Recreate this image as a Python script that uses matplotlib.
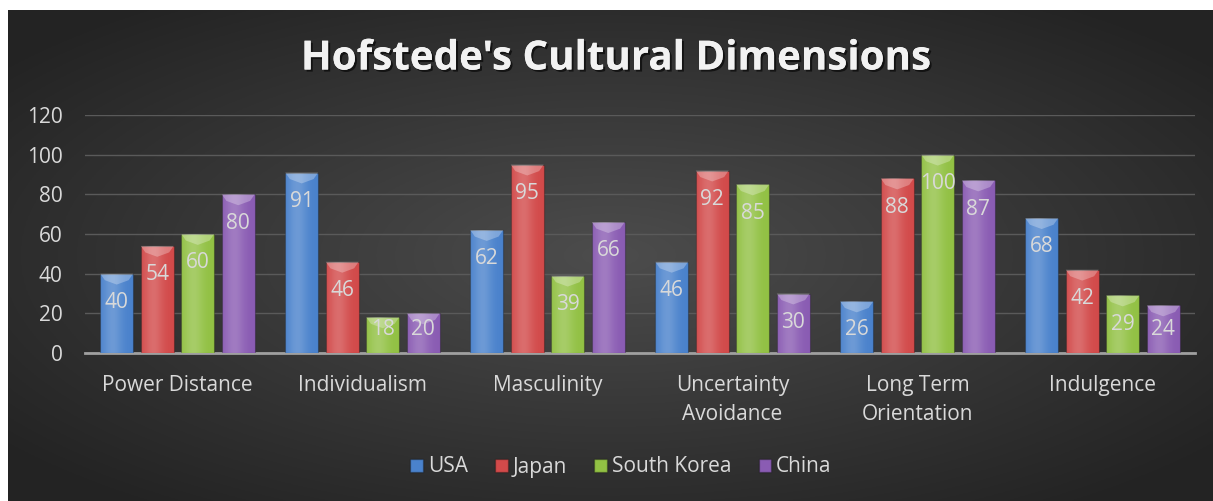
import numpy as np
import matplotlib
matplotlib.use("Agg")
import matplotlib.pyplot as plt
from matplotlib.patches import Rectangle, Polygon
import matplotlib.patheffects as pe

# data
categories = ["Power Distance", "Individualism", "Masculinity",
              "Uncertainty\nAvoidance", "Long Term\nOrientation", "Indulgence"]
usa = [40, 91, 62, 46, 26, 68]
japan = [54, 46, 95, 92, 88, 42]
south_korea = [60, 18, 39, 85, 100, 29]
china = [80, 20, 66, 30, 87, 24]

series = [("USA", usa, "#4a82cc"), ("Japan", japan, "#d24a4a"),
          ("South Korea", south_korea, "#92c144"), ("China", china, "#8a5cb3")]

plt.rcParams["font.family"] = ["Open Sans", "DejaVu Sans"]
txt = "#d9d9d9"
fs = 15

fig = plt.figure(figsize=(12.13, 5.01), dpi=100)
fig.patch.set_facecolor("white")

# radial background
bg = fig.add_axes([8 / 1213, 0, 1 - 8 / 1213, 1 - 10 / 501])
bg.set_axis_off()
yy, xx = np.mgrid[-1:1:300j, -1:1:600j]
r = np.sqrt((xx * 0.9) ** 2 + (yy * 0.9) ** 2)
shade = np.clip(0.30 - 0.14 * r, 0.14, 0.30)
bg.imshow(np.dstack([shade] * 3), aspect="auto", extent=[0, 1, 0, 1])
bg.set_xlim(0, 1)
bg.set_ylim(0, 1)

ax = fig.add_axes([85 / 1213, 1 - 353 / 501, 1110 / 1213, (353 - 115) / 501])
ax.set_facecolor("none")
ax.set_xlim(-0.5, 5.5)
ax.set_ylim(0, 120)
ax.set_yticks(range(0, 121, 20))
ax.grid(axis="y", color="#5a5a5a", linewidth=1)
ax.set_axisbelow(True)
for s in ["top", "right", "left"]:
    ax.spines[s].set_visible(False)
ax.spines["bottom"].set_color("#a0a0a0")
ax.spines["bottom"].set_linewidth(2)
ax.tick_params(length=0, colors=txt, labelsize=fs)
ax.tick_params(axis="y", pad=16)
ax.tick_params(axis="x", pad=16)
ax.set_xticks(range(len(categories)))
ax.set_xticklabels(categories, linespacing=1.5, va="top")

width = 0.178
step = 0.219
x = np.arange(len(categories))
grad = np.linspace(0, 1, 60)
grad = 0.55 * np.exp(-((grad - 0.38) / 0.3) ** 2)

for i, (name, vals, col) in enumerate(series):
    xs = x + (i - 1.5) * step
    bars = ax.bar(xs, vals, width=width, color=col, edgecolor="#00000040",
                  linewidth=0.8, label=name, zorder=3)
    for b, v in zip(bars, vals):
        x0, w = b.get_x(), b.get_width()
        # soft highlight across the bar
        img = np.zeros((1, 60, 4))
        img[..., :3] = 1
        img[..., 3] = grad * 0.35
        im = ax.imshow(img, extent=[x0, x0 + w, 0, v], aspect="auto",
                       zorder=4, interpolation="bicubic")
        im.set_clip_path(b)
        # bevel at the top
        d = 5.5
        bev = Polygon([(x0, v), (x0 + w, v), (x0 + w * 0.86, v - d * 0.6),
                       (x0 + w / 2, v - d), (x0 + w * 0.14, v - d * 0.6)],
                      closed=True, facecolor="white", alpha=0.28,
                      edgecolor="none", zorder=5)
        ax.add_patch(bev)
        ax.text(b.get_x() + w / 2, max(v - 14.5, 11.6), str(v), ha="center",
                va="center", color=txt, fontsize=fs, zorder=6)

ax.set_xlim(-0.5, 5.5)
ax.set_ylim(0, 120)

handles = [Rectangle((0, 0), 1, 1, facecolor=c, edgecolor="#00000040")
           for _, _, c in series]
leg = fig.legend(handles, [s[0] for s in series], loc="center",
                 bbox_to_anchor=(621 / 1213, 1 - 467 / 501), ncol=4,
                 frameon=False, fontsize=fs, handlelength=0.6,
                 handleheight=0.6, handletextpad=0.25, columnspacing=1.3)
for t in leg.get_texts():
    t.set_color(txt)

fig.text(615 / 1213, 1 - 59 / 501, "Hofstede's Cultural Dimensions",
         ha="center", va="center", fontsize=29, fontweight="bold",
         color="#f2f2f2",
         path_effects=[pe.withSimplePatchShadow(offset=(1.5, -1.5),
                                                 shadow_rgbFace="black",
                                                 alpha=0.6),
                       pe.Normal()])

fig.savefig("out.png", dpi=100)
